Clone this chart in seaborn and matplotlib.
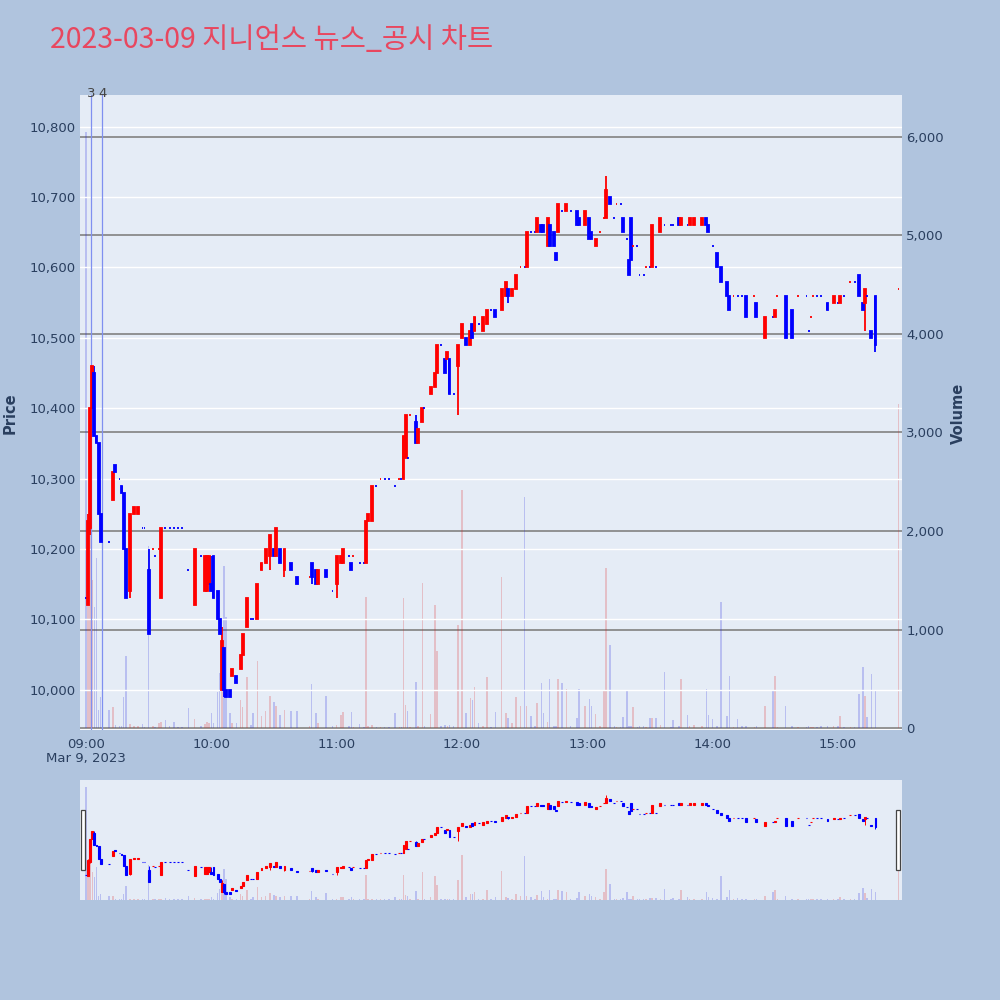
import numpy as np
import pandas as pd
import matplotlib
matplotlib.use("Agg")
import matplotlib.pyplot as plt
import matplotlib.transforms as mtransforms
from matplotlib.patches import Rectangle
import seaborn as sns

# ---------------- data ----------------
title = "2023-03-09 지니언스 뉴스_공시 차트"
date_label = "Mar 9, 2023"
hour_ticks = [0, 60, 120, 180, 240, 300, 360]
hour_labels = ["09:00", "10:00", "11:00", "12:00", "13:00", "14:00", "15:00"]
price_ticks = [10000, 10100, 10200, 10300, 10400, 10500, 10600, 10700, 10800]
volume_ticks = [0, 1000, 2000, 3000, 4000, 5000, 6000]
news_minutes = [2.4, 7.7]
news_labels = ["3", "4"]

minutes = [0, 1, 2, 3, 4, 5, 6, 7, 11, 13,
           14, 16, 17, 18, 19, 21, 23, 25, 27, 28,
           30, 32, 33, 35, 36, 38, 40, 42, 44, 46,
           49, 52, 55, 57, 58, 59, 60, 61, 63, 64,
           65, 66, 67, 69, 70, 72, 74, 75, 77, 79,
           80, 82, 84, 86, 88, 90, 91, 93, 95, 98,
           101, 107, 108, 110, 111, 115, 118, 120, 122, 123,
           126, 127, 128, 131, 133, 134, 135, 137, 139, 141,
           143, 145, 148, 150, 151, 152, 153, 154, 155, 158,
           159, 161, 162, 165, 167, 168, 170, 172, 173, 174,
           176, 178, 180, 182, 184, 185, 186, 188, 190, 192,
           194, 196, 199, 201, 202, 204, 206, 208, 210, 211,
           213, 215, 216, 218, 219, 221, 222, 224, 225, 226,
           228, 230, 232, 235, 236, 239, 241, 242, 244, 246,
           248, 249, 251, 253, 254, 256, 257, 259, 260, 261,
           262, 264, 265, 267, 268, 270, 271, 273, 275, 277,
           280, 281, 284, 285, 288, 289, 291, 295, 297, 298,
           300, 302, 304, 307, 308, 310, 312, 314, 316, 320,
           321, 325, 329, 330, 331, 335, 338, 341, 345, 346,
           347, 348, 350, 352, 355, 358, 360, 361, 363, 366,
           368, 370, 372, 373, 374, 376, 378, 389]

opens = [10130, 10120, 10230, 10400, 10450, 10360, 10350, 10250, 10210, 10270,
         10320, 10300, 10290, 10280, 10200, 10140, 10250, 10250, 10230, 10230,
         10170, 10200, 10190, 10200, 10130, 10230, 10230, 10230, 10230, 10230,
         10170, 10120, 10190, 10140, 10140, 10150, 10150, 10190, 10140, 10100,
         10000, 10060, 10000, 10000, 10020, 10020, 10030, 10050, 10090, 10100,
         10100, 10100, 10170, 10180, 10190, 10200, 10190, 10200, 10170, 10180,
         10160, 10160, 10180, 10170, 10150, 10170, 10140, 10150, 10180, 10180,
         10190, 10180, 10190, 10180, 10180, 10180, 10240, 10240, 10290, 10300,
         10300, 10300, 10290, 10300, 10300, 10300, 10330, 10330, 10390, 10380,
         10350, 10380, 10400, 10420, 10430, 10450, 10490, 10470, 10470, 10470,
         10420, 10460, 10500, 10500, 10490, 10520, 10510, 10520, 10510, 10520,
         10540, 10540, 10540, 10560, 10570, 10560, 10570, 10600, 10600, 10600,
         10650, 10650, 10650, 10660, 10660, 10630, 10660, 10650, 10620, 10650,
         10680, 10680, 10680, 10680, 10670, 10660, 10670, 10650, 10630, 10650,
         10670, 10670, 10700, 10670, 10690, 10690, 10670, 10640, 10610, 10670,
         10630, 10630, 10590, 10590, 10600, 10600, 10600, 10600, 10650, 10660,
         10660, 10660, 10670, 10660, 10660, 10660, 10660, 10660, 10670, 10660,
         10630, 10620, 10600, 10580, 10560, 10560, 10560, 10560, 10560, 10560,
         10550, 10500, 10530, 10530, 10560, 10560, 10540, 10560, 10560, 10510,
         10530, 10560, 10560, 10560, 10550, 10550, 10550, 10550, 10560, 10580,
         10580, 10590, 10550, 10550, 10560, 10510, 10560, 10570]

highs = [10130, 10250, 10400, 10460, 10460, 10360, 10350, 10250, 10210, 10310,
         10320, 10300, 10290, 10280, 10200, 10250, 10260, 10260, 10230, 10230,
         10200, 10200, 10190, 10200, 10230, 10230, 10230, 10230, 10230, 10230,
         10170, 10200, 10190, 10190, 10190, 10190, 10190, 10190, 10140, 10100,
         10090, 10060, 10000, 10000, 10030, 10020, 10050, 10080, 10130, 10100,
         10100, 10150, 10180, 10200, 10220, 10200, 10230, 10200, 10200, 10180,
         10160, 10160, 10180, 10170, 10170, 10170, 10140, 10190, 10190, 10200,
         10190, 10180, 10190, 10180, 10180, 10240, 10250, 10290, 10290, 10300,
         10300, 10300, 10290, 10300, 10300, 10360, 10390, 10330, 10390, 10390,
         10370, 10400, 10400, 10430, 10450, 10490, 10490, 10470, 10480, 10470,
         10420, 10490, 10520, 10500, 10510, 10520, 10530, 10520, 10530, 10540,
         10540, 10540, 10570, 10580, 10570, 10570, 10590, 10600, 10600, 10650,
         10650, 10650, 10670, 10660, 10660, 10670, 10660, 10650, 10620, 10690,
         10680, 10690, 10680, 10680, 10670, 10680, 10670, 10650, 10640, 10650,
         10670, 10730, 10700, 10670, 10690, 10690, 10670, 10640, 10610, 10670,
         10630, 10630, 10590, 10590, 10600, 10600, 10660, 10600, 10670, 10660,
         10660, 10660, 10670, 10670, 10660, 10670, 10670, 10670, 10670, 10660,
         10630, 10620, 10600, 10580, 10560, 10560, 10560, 10560, 10560, 10560,
         10550, 10530, 10530, 10540, 10560, 10560, 10540, 10560, 10560, 10510,
         10530, 10560, 10560, 10560, 10550, 10560, 10550, 10560, 10560, 10580,
         10580, 10590, 10550, 10570, 10560, 10510, 10560, 10570]

lows = [10130, 10120, 10220, 10400, 10360, 10350, 10250, 10210, 10210, 10270,
        10310, 10300, 10280, 10200, 10130, 10130, 10250, 10250, 10230, 10230,
        10080, 10200, 10190, 10200, 10130, 10230, 10230, 10230, 10230, 10230,
        10170, 10120, 10190, 10140, 10140, 10150, 10140, 10130, 10100, 10080,
        10000, 9990, 9990, 9990, 10020, 10010, 10030, 10050, 10090, 10100,
        10100, 10100, 10170, 10180, 10170, 10190, 10190, 10180, 10160, 10170,
        10150, 10160, 10150, 10150, 10150, 10160, 10140, 10130, 10180, 10180,
        10190, 10170, 10190, 10180, 10180, 10180, 10240, 10240, 10290, 10300,
        10300, 10300, 10290, 10300, 10300, 10300, 10330, 10330, 10390, 10350,
        10350, 10380, 10400, 10420, 10430, 10450, 10490, 10450, 10470, 10420,
        10420, 10390, 10500, 10490, 10490, 10500, 10510, 10520, 10510, 10520,
        10540, 10530, 10540, 10560, 10550, 10560, 10570, 10600, 10600, 10600,
        10650, 10650, 10650, 10650, 10650, 10630, 10630, 10630, 10610, 10650,
        10680, 10680, 10680, 10660, 10660, 10660, 10640, 10640, 10630, 10650,
        10670, 10670, 10690, 10670, 10690, 10690, 10650, 10640, 10590, 10610,
        10630, 10630, 10590, 10590, 10600, 10600, 10600, 10600, 10650, 10660,
        10660, 10660, 10660, 10660, 10660, 10660, 10660, 10660, 10660, 10650,
        10630, 10600, 10580, 10560, 10540, 10560, 10560, 10560, 10530, 10560,
        10530, 10500, 10530, 10530, 10560, 10500, 10500, 10560, 10560, 10510,
        10530, 10560, 10560, 10560, 10540, 10550, 10550, 10550, 10560, 10580,
        10580, 10560, 10540, 10510, 10560, 10500, 10480, 10570]

closes = [10130, 10240, 10400, 10460, 10360, 10350, 10250, 10210, 10210, 10310,
          10310, 10300, 10280, 10200, 10130, 10250, 10260, 10260, 10230, 10230,
          10080, 10200, 10190, 10200, 10230, 10230, 10230, 10230, 10230, 10230,
          10170, 10200, 10190, 10190, 10190, 10190, 10140, 10130, 10100, 10080,
          10070, 10000, 9990, 9990, 10030, 10010, 10050, 10080, 10130, 10100,
          10100, 10150, 10180, 10200, 10220, 10190, 10230, 10180, 10200, 10170,
          10150, 10160, 10160, 10150, 10170, 10160, 10140, 10190, 10190, 10200,
          10190, 10170, 10190, 10180, 10180, 10240, 10250, 10290, 10290, 10300,
          10300, 10300, 10290, 10300, 10300, 10360, 10390, 10330, 10390, 10350,
          10370, 10400, 10400, 10430, 10450, 10490, 10490, 10450, 10480, 10420,
          10420, 10490, 10520, 10490, 10510, 10500, 10530, 10520, 10530, 10540,
          10540, 10530, 10570, 10580, 10560, 10570, 10590, 10600, 10600, 10650,
          10650, 10650, 10670, 10650, 10650, 10670, 10630, 10630, 10610, 10690,
          10680, 10690, 10680, 10660, 10660, 10680, 10640, 10640, 10640, 10650,
          10670, 10710, 10690, 10670, 10690, 10690, 10650, 10640, 10590, 10610,
          10630, 10630, 10590, 10590, 10600, 10600, 10660, 10600, 10670, 10660,
          10660, 10660, 10660, 10670, 10660, 10670, 10670, 10670, 10660, 10650,
          10630, 10600, 10580, 10560, 10540, 10560, 10560, 10560, 10530, 10560,
          10530, 10530, 10530, 10540, 10560, 10500, 10500, 10560, 10560, 10510,
          10530, 10560, 10560, 10560, 10540, 10560, 10550, 10560, 10560, 10580,
          10580, 10560, 10540, 10570, 10560, 10500, 10490, 10570]

volumes = [6050, 1900, 2100, 1500, 1230, 1730, 180, 310, 180, 210,
           30, 20, 20, 320, 730, 40, 20, 20, 40, 10,
           1850, 20, 10, 50, 60, 80, 20, 60, 15, 10,
           200, 90, 20, 40, 60, 50, 150, 50, 370, 560,
           1030, 1640, 1130, 150, 50, 50, 280, 210, 520, 30,
           150, 680, 120, 170, 330, 260, 220, 130, 180, 170,
           170, 20, 450, 150, 50, 330, 20, 30, 130, 160,
           20, 160, 10, 40, 10, 1330, 20, 30, 10, 10,
           10, 10, 150, 10, 10, 1320, 230, 170, 10, 470,
           20, 1470, 20, 140, 1250, 780, 20, 30, 20, 30,
           20, 1050, 2420, 150, 300, 280, 420, 50, 20, 520,
           10, 160, 1530, 150, 100, 50, 310, 220, 2350, 220,
           120, 20, 250, 460, 150, 60, 500, 20, 20, 500,
           460, 400, 20, 100, 400, 220, 290, 220, 140, 20,
           390, 1620, 840, 20, 10, 10, 110, 390, 20, 20,
           210, 10, 20, 20, 10, 100, 100, 100, 30, 570,
           10, 80, 20, 500, 130, 20, 30, 20, 400, 130,
           90, 20, 1280, 120, 530, 10, 90, 20, 20, 10,
           20, 220, 390, 530, 10, 220, 20, 10, 10, 20,
           10, 10, 10, 20, 20, 20, 20, 120, 10, 10,
           10, 350, 620, 330, 110, 550, 390, 3290]

# ---------------- style ----------------
sns.set_theme(style="white")
plt.rcParams["font.family"] = ["DejaVu Sans", "Noto Sans CJK KR"]

PAGE_BG = "#B0C4DE"
PLOT_BG = "#E5ECF6"
UP = "#FF0000"
DOWN = "#0000FF"
TXT = "#2a3f5f"

df = pd.DataFrame({"minute": minutes, "open": opens, "high": highs,
                   "low": lows, "close": closes, "volume": volumes})
prev_close = df["close"].shift(1).fillna(df["close"])
up = (df["close"] > df["open"]) | ((df["close"] == df["open"]) & (df["close"] > prev_close))
df["dir"] = np.where(up, "up", "down")
df["color"] = np.where(up, UP, DOWN)
df["body_bottom"] = df[["open", "close"]].min(axis=1)
df["body_height"] = (df["open"] - df["close"]).abs()

XLIM = (-2.9, 390.7)
PLIM = (9943, 10845)
VLIM = (-20, 6426)

fig = plt.figure(figsize=(10, 10), dpi=100, facecolor=PAGE_BG)


def draw_panel(ax_p, ax_v, wick_lw, body_lw, body_w, vol_w):
    ax_v.set_facecolor(PLOT_BG)
    ax_p.patch.set_visible(False)
    ax_p.set_zorder(ax_v.get_zorder() + 1)
    sns.barplot(data=df, x="minute", y="volume", hue="dir",
                palette={"up": UP, "down": DOWN}, native_scale=True,
                dodge=False, alpha=0.22, linewidth=0, errorbar=None,
                legend=False, width=vol_w, ax=ax_v)
    ax_p.vlines(df["minute"], df["low"], df["high"], colors=df["color"],
                linewidth=wick_lw, zorder=3)
    ax_p.bar(df["minute"], df["body_height"], bottom=df["body_bottom"],
             width=body_w, color=df["color"], edgecolor=df["color"],
             linewidth=body_lw, zorder=4)
    ax_p.set_xlim(*XLIM)
    ax_p.set_ylim(*PLIM)
    ax_v.set_ylim(*VLIM)
    for a in (ax_p, ax_v):
        for s in a.spines.values():
            s.set_visible(False)
        a.set_xlabel("")
        a.set_ylabel("")


# ---------------- main chart ----------------
ax_v = fig.add_axes([0.08, 0.27, 0.822, 0.635])
ax_p = ax_v.twinx()
draw_panel(ax_p, ax_v, wick_lw=1.3, body_lw=1.3, body_w=0.9, vol_w=0.75)

# price axis on the left, volume axis on the right
ax_p.yaxis.tick_left()
ax_v.yaxis.tick_right()
ax_p.set_yticks(price_ticks)
ax_p.set_yticklabels([f"{v:,}" for v in price_ticks])
ax_v.set_yticks(volume_ticks)
ax_v.set_yticklabels([f"{v:,}" for v in volume_ticks])
ax_p.tick_params(axis="y", length=0, pad=3, labelsize=9.5, labelcolor=TXT)
ax_v.tick_params(axis="y", length=0, pad=3, labelsize=9.5, labelcolor=TXT)
ax_p.yaxis.grid(True, color="white", linewidth=1.0)
ax_v.yaxis.grid(True, color="#8a8a8a", linewidth=1.3)
ax_v.axhline(0, color="white", linewidth=2, zorder=0.5)
ax_p.xaxis.grid(False)
ax_v.xaxis.grid(False)
ax_v.set_xticks(hour_ticks)
ax_v.set_xticklabels([hour_labels[0] + "\n" + date_label] + hour_labels[1:],
                     linespacing=1.05)
ax_v.tick_params(axis="x", length=0, pad=6, labelsize=9.5, labelcolor=TXT)
ax_v.set_xlim(*XLIM)

# news markers
trans = mtransforms.blended_transform_factory(ax_p.transData, ax_p.transAxes)
for xm, lab in zip(news_minutes, news_labels):
    ax_p.axvline(xm, color="#7f90f0", linewidth=0.9, zorder=2)
    ax_p.text(xm, 1.002, lab, transform=trans, ha="center", va="center",
              fontsize=9.5, color="#444444")

# ---------------- range slider ----------------
rs_v = fig.add_axes([0.08, 0.10, 0.822, 0.12])
rs_p = rs_v.twinx()
draw_panel(rs_p, rs_v, wick_lw=0.7, body_lw=0.8, body_w=0.9, vol_w=0.75)
for a in (rs_p, rs_v):
    a.set_xticks([])
    a.set_yticks([])
    a.grid(False)

for hx in (0.0805, 0.8955):
    fig.patches.append(Rectangle((hx, 0.13), 0.0045, 0.06, transform=fig.transFigure,
                                 facecolor="white", edgecolor="#444444",
                                 linewidth=0.9, zorder=10))

# ---------------- titles ----------------
fig.text(0.05, 0.96, title, fontsize=20.5, color="#E8475F", ha="left", va="center",
         family=["Noto Sans CJK KR", "DejaVu Sans"])
fig.text(0.01, 0.587, "Price", rotation=90, fontsize=10.5, fontweight="bold",
         color=TXT, ha="center", va="center")
fig.text(0.958, 0.587, "Volume", rotation=90, fontsize=10.5, fontweight="bold",
         color=TXT, ha="center", va="center")

fig.savefig("out.png", dpi=100, facecolor=PAGE_BG)
